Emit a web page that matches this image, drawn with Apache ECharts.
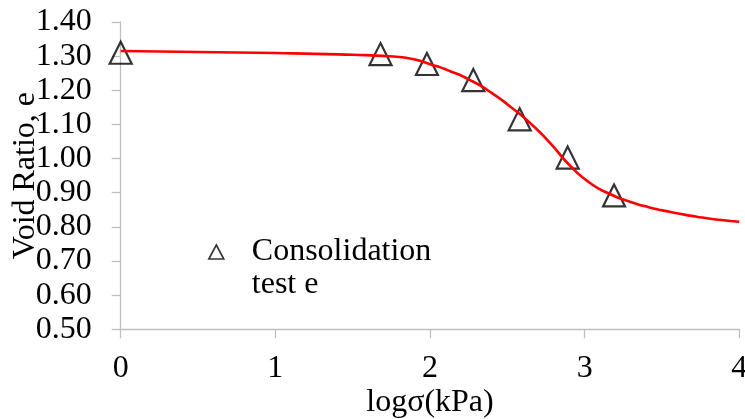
<!DOCTYPE html>
<html>
<head>
<meta charset="utf-8">
<script src="https://cdn.jsdelivr.net/npm/echarts@6/dist/echarts.min.js"></script>
<style>
  html, body { margin: 0; padding: 0; background: #fff; }
  #chart { width: 745px; height: 419px; }
</style>
</head>
<body>
<div id="chart"></div>
<script>
// Consolidation test: void ratio vs log of effective stress
const testLogStress = [0, 1.68, 1.98, 2.28, 2.58, 2.89, 3.19];
const testVoidRatio = [1.310, 1.306, 1.277, 1.230, 1.115, 1.003, 0.892];

// Fitted compression curve
const fitLogStress = [0, 1.0, 1.5, 1.74, 1.87, 2.0, 2.13, 2.26, 2.39, 2.52, 2.65, 2.78, 2.90, 3.03, 3.16, 3.29, 3.42, 3.55, 3.68, 3.81, 4.0];
const fitVoidRatio = [1.315, 1.309, 1.304, 1.2995, 1.293, 1.2765, 1.256, 1.230, 1.195, 1.152, 1.103, 1.044, 0.982, 0.930, 0.897, 0.874, 0.857, 0.844, 0.833, 0.824, 0.815];

const xTicks = { min: 0, max: 4, interval: 1 };
const yTicks = { min: 0.5, max: 1.4, interval: 0.1 };

const FONT = 'Liberation Serif';
const FONT_SIZE = 32;
const AXIS_GREY = '#bfbfbf';

const chart = echarts.init(document.getElementById('chart'), null, { renderer: 'canvas' });

chart.setOption({
  animation: false,
  backgroundColor: '#ffffff',
  grid: {
    left: 120.7, right: 5.7, top: 22, bottom: 89.7,
    containLabel: false, outerBoundsMode: 'none'
  },
  legend: {
    data: ['Consolidation test e'],
    left: 208,
    top: 202.5,
    padding: 0,
    icon: 'triangle',
    itemWidth: 15,
    itemHeight: 14,
    itemGap: 0,
    itemStyle: { color: 'rgba(0,0,0,0)', borderColor: '#000', borderWidth: 1.6 },
    // blank first line keeps the marker level with "Consolidation"
    formatter: () => '\nConsolidation\ntest e',
    textStyle: {
      fontFamily: FONT, fontSize: FONT_SIZE, color: '#000',
      lineHeight: 33, padding: [0, 0, 0, 23]
    }
  },
  xAxis: {
    type: 'value',
    min: xTicks.min, max: xTicks.max, interval: xTicks.interval,
    name: 'logσ(kPa)',
    nameLocation: 'middle',
    nameGap: 57,
    nameMoveOverlap: false,
    nameTextStyle: { fontFamily: FONT, fontSize: FONT_SIZE, color: '#000' },
    axisLine: { show: true, lineStyle: { color: AXIS_GREY, width: 1.3 } },
    axisTick: { show: true, length: 9, lineStyle: { color: AXIS_GREY, width: 1.3 } },
    axisLabel: { fontFamily: FONT, fontSize: FONT_SIZE, color: '#000', margin: 23.5 },
    splitLine: { show: false }
  },
  yAxis: {
    type: 'value',
    min: yTicks.min, max: yTicks.max, interval: yTicks.interval,
    name: 'Void Ratio, e',
    nameLocation: 'middle',
    nameGap: 79,
    nameMoveOverlap: false,
    nameTextStyle: { fontFamily: FONT, fontSize: FONT_SIZE, color: '#000' },
    axisLine: { show: true, lineStyle: { color: AXIS_GREY, width: 1.3 } },
    axisTick: { show: true, length: 9, lineStyle: { color: AXIS_GREY, width: 1.3 } },
    axisLabel: {
      fontFamily: FONT, fontSize: FONT_SIZE, color: '#000', margin: 29,
      formatter: v => v.toFixed(2)
    },
    splitLine: { show: false }
  },
  series: [
    {
      name: 'Consolidation test e',
      type: 'scatter',
      symbol: 'triangle',
      symbolSize: [22, 22],
      itemStyle: { color: 'rgba(0,0,0,0)', borderColor: '#000', borderWidth: 2.2 },
      data: testLogStress.map((x, i) => [x, testVoidRatio[i]]),
      z: 2
    },
    {
      name: 'Fitted curve',
      type: 'line',
      smooth: 0.6,
      showSymbol: false,
      lineStyle: { color: '#ff0000', width: 2.6 },
      data: fitLogStress.map((x, i) => [x, fitVoidRatio[i]]),
      z: 3
    }
  ]
});
</script>
</body>
</html>
